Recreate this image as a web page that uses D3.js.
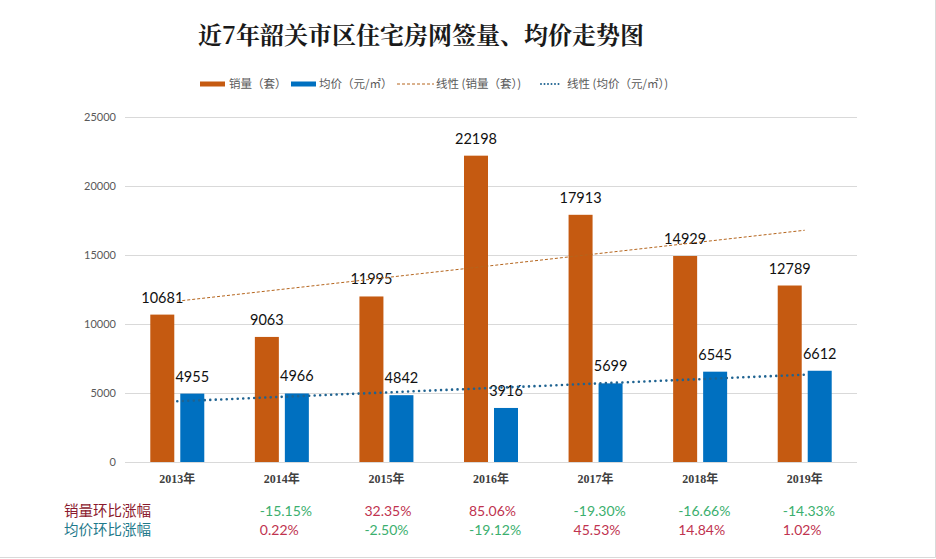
<!DOCTYPE html>
<html><head><meta charset="utf-8">
<script src="https://cdn.jsdelivr.net/npm/d3@7"></script>
<style>
html,body{margin:0;padding:0;background:#fff;}
svg{display:block;}
</style></head>
<body>
<svg id="chart" width="936" height="559"></svg>
<script>
const title = "近7年韶关市区住宅房网签量、均价走势图";
const years = ["2013年","2014年","2015年","2016年","2017年","2018年","2019年"];
const sales = [10681, 9063, 11995, 22198, 17913, 14929, 12789];
const prices = [4955, 4966, 4842, 3916, 5699, 6545, 6612];
const yTicks = [0, 5000, 10000, 15000, 20000, 25000];
const salesChange = [null, "-15.15%", "32.35%", "85.06%", "-19.30%", "-16.66%", "-14.33%"];
const priceChange = [null, "0.22%", "-2.50%", "-19.12%", "45.53%", "14.84%", "1.02%"];
const rowLabels = ["销量环比涨幅", "均价环比涨幅"];
const legendLabels = ["销量（套）", "均价（元/㎡）", "线性 (销量（套）)", "线性 (均价（元/㎡）)"];

const ORANGE = "#C55A11", BLUE = "#0070C0", TREND_BLUE = "#1F6391";
const NUM_FONT = "Lato, 'Open Sans', sans-serif";
const CJK = "'Noto Sans CJK SC', sans-serif";

const svg = d3.select("#chart");
svg.append("rect").attr("width",936).attr("height",559).attr("fill","#fff");

// border (right & bottom)
svg.append("line").attr("x1",935.5).attr("x2",935.5).attr("y1",0).attr("y2",557.5).attr("stroke","#d9d9d9");
svg.append("line").attr("x1",0).attr("x2",935.5).attr("y1",557.5).attr("y2",557.5).attr("stroke","#d9d9d9");

const x = d3.scaleBand().domain(years).range([125, 857]).paddingInner(0).paddingOuter(0);
const x1 = d3.scaleBand().domain(["s","p"]).range([0, x.bandwidth()]).paddingInner(0.2).paddingOuter(0.843);
const y = d3.scaleLinear().domain([0, 25000]).range([462, 117]);

// title
svg.append("text").attr("x", 421).attr("y", 44).attr("text-anchor","middle")
  .attr("font-family", "'Noto Serif CJK SC','Noto Sans CJK SC',serif").attr("font-weight","bold")
  .attr("font-size", 24).attr("fill","#1a1a1a").text(title);

// gridlines
const yAxis = d3.axisLeft(y).tickValues(yTicks).tickSize(-(857-125)).tickPadding(9).tickFormat(d3.format("d"));
const gy = svg.append("g").attr("transform","translate(125,0)").call(yAxis);
gy.select(".domain").remove();
gy.selectAll(".tick line").attr("stroke","#d9d9d9");
gy.selectAll(".tick text").attr("fill","#595959").attr("font-size",11).attr("font-family",NUM_FONT);

// x axis labels
const xAxis = d3.axisBottom(x).tickSize(0).tickPadding(12);
const gx = svg.append("g").attr("transform","translate(0,462)").call(xAxis);
gx.select(".domain").remove();
gx.selectAll(".tick text").attr("fill","#404040").attr("font-size",12).attr("font-weight","bold")
  .attr("font-family","'Liberation Serif','Noto Sans CJK SC',serif");

// bars
const g = svg.append("g");
g.selectAll(".bs").data(years).join("rect")
  .attr("x", (d)=>x(d)+x1("s")).attr("width", x1.bandwidth())
  .attr("y", (d,i)=>y(sales[i])).attr("height",(d,i)=>y(0)-y(sales[i])).attr("fill",ORANGE);
g.selectAll(".bp").data(years).join("rect")
  .attr("x", (d)=>x(d)+x1("p")).attr("width", x1.bandwidth())
  .attr("y", (d,i)=>y(prices[i])).attr("height",(d,i)=>y(0)-y(prices[i])).attr("fill",BLUE);

// trend lines (least squares)
function linreg(vals){
  const xs = vals.map((v,i)=>i+1);
  const mx = d3.mean(xs), my = d3.mean(vals);
  const b = d3.sum(xs.map((xv,i)=>(xv-mx)*(vals[i]-my))) / d3.sum(xs.map(xv=>(xv-mx)**2));
  return xv => my + b*(xv-mx);
}
const cx = d => x(d) + x.bandwidth()/2;
const fs = linreg(sales), fp = linreg(prices);
const line = d3.line();
svg.append("path").attr("d", line([[cx(years[0]), y(fs(1))],[cx(years[6]), y(fs(7))]]))
  .attr("stroke", "#B5651D").attr("stroke-width",1).attr("stroke-dasharray","3,2").attr("fill","none");
svg.append("path").attr("d", line([[cx(years[0]), y(fp(1))],[cx(years[6]), y(fp(7))]]))
  .attr("stroke", TREND_BLUE).attr("stroke-width",2.6).attr("stroke-dasharray","0,5.5").attr("stroke-linecap","round").attr("fill","none");

// data labels
g.selectAll(".ls").data(years).join("text")
  .attr("x", d=>x(d)+x1("s")+x1.bandwidth()/2).attr("y",(d,i)=>y(sales[i])-12)
  .attr("text-anchor","middle").attr("font-family",NUM_FONT).attr("font-size",14.5).attr("fill","#111")
  .text((d,i)=>sales[i]);
g.selectAll(".lp").data(years).join("text")
  .attr("x", d=>x(d)+x1("p")+x1.bandwidth()/2).attr("y",(d,i)=>y(prices[i])-12)
  .attr("text-anchor","middle").attr("font-family",NUM_FONT).attr("font-size",14.5).attr("fill","#111")
  .text((d,i)=>prices[i]);

// legend
const leg = svg.append("g").attr("font-family",CJK).attr("font-size",11.5).attr("fill","#595959");
const ly = 84;
leg.append("rect").attr("x",200).attr("y",ly-2.5).attr("width",25).attr("height",5).attr("fill",ORANGE);
leg.append("text").attr("x",229).attr("y",ly+4).text(legendLabels[0]);
leg.append("rect").attr("x",291).attr("y",ly-2.5).attr("width",25).attr("height",5).attr("fill",BLUE);
leg.append("text").attr("x",319).attr("y",ly+4).text(legendLabels[1]);
leg.append("line").attr("x1",397).attr("x2",434).attr("y1",ly).attr("y2",ly)
  .attr("stroke","#B5651D").attr("stroke-width",1).attr("stroke-dasharray","3,2");
leg.append("text").attr("x",436).attr("y",ly+4).text(legendLabels[2]);
leg.append("line").attr("x1",541).attr("x2",561).attr("y1",ly).attr("y2",ly)
  .attr("stroke",TREND_BLUE).attr("stroke-width",2).attr("stroke-dasharray","0,3.5").attr("stroke-linecap","round");
leg.append("text").attr("x",567).attr("y",ly+4).text(legendLabels[3]);

// bottom table
svg.append("text").attr("x",151).attr("y",516).attr("text-anchor","end").attr("font-family",CJK)
  .attr("font-size",14.5).attr("fill","#8B1A2E").text(rowLabels[0]);
svg.append("text").attr("x",151).attr("y",535).attr("text-anchor","end").attr("font-family",CJK)
  .attr("font-size",14.5).attr("fill","#1F7A8C").text(rowLabels[1]);
const pctColor = s => s && s.startsWith("-") ? "#3BAF6E" : "#C0334F";
svg.selectAll(".sc").data(years).join("text")
  .attr("x", d=>cx(d)-22).attr("y",516).attr("text-anchor","start")
  .attr("font-family",NUM_FONT).attr("font-size",14).attr("fill",(d,i)=>pctColor(salesChange[i]))
  .text((d,i)=>salesChange[i] || "");
svg.selectAll(".pc").data(years).join("text")
  .attr("x", d=>cx(d)-22).attr("y",535).attr("text-anchor","start")
  .attr("font-family",NUM_FONT).attr("font-size",14).attr("fill",(d,i)=>pctColor(priceChange[i]))
  .text((d,i)=>priceChange[i] || "");
</script>
</body></html>
